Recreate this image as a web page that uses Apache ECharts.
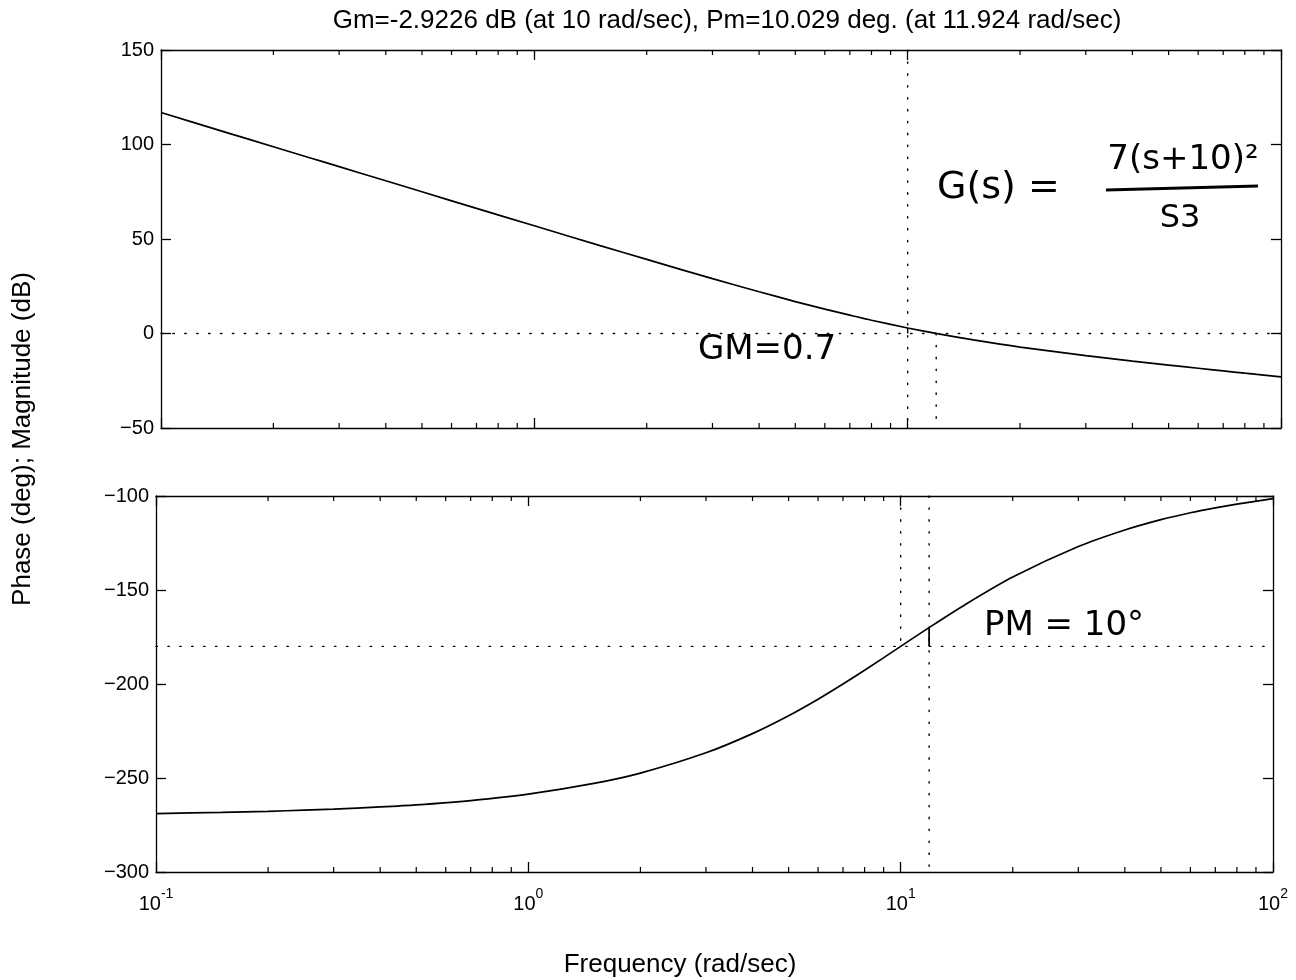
<!DOCTYPE html>
<html>
<head>
<meta charset="utf-8">
<script src="https://cdn.jsdelivr.net/npm/echarts@6/dist/echarts.min.js"></script>
<style>html,body{margin:0;padding:0;background:#fff}#c{width:1296px;height:980px}</style>
</head>
<body>
<div id="c"></div>
<script>
// Frequencies (rad/sec)
const freq = [0.1, 0.15, 0.2, 0.25, 0.3, 0.4, 0.5, 0.7, 1, 1.5, 2, 3, 4, 5, 6, 7, 8, 10, 12, 15, 20, 30, 40, 50, 60, 70, 80, 100];
// Magnitude (dB)
const magDb = [116.9, 106.3, 98.8, 93.0, 88.3, 80.8, 75.0, 66.2, 57.0, 46.5, 39.2, 29.0, 22.1, 16.9, 12.9, 9.7, 7.0, 2.9, -0.1, -3.4, -7.2, -11.7, -14.6, -16.7, -18.4, -19.8, -21.0, -22.9];
// Phase (deg)
const phaseDeg = [-268.9, -268.3, -267.7, -267.1, -266.6, -265.4, -264.3, -262.0, -258.6, -252.9, -247.4, -236.6, -226.4, -216.9, -208.1, -200.0, -192.7, -180.0, -169.6, -157.4, -143.1, -126.9, -118.1, -112.6, -108.9, -106.3, -104.3, -101.4];
// Margin values (from the title)
const gmFreq = 10;
const gmDb = 2.9226;
const pmFreq = 11.924;
const pmPhase = -169.971;
const critPhase = -180;
// Axis ranges and ticks
const freqRange = [0.1, 100];
const magRange = [-50, 150];
const phaseRange = [-300, -100];
const yStep = 50;
const minorFreqs = [0.2,0.3,0.4,0.5,0.6,0.7,0.8,0.9, 2,3,4,5,6,7,8,9, 20,30,40,50,60,70,80,90];
const titleText = 'Gm=-2.9226 dB (at 10 rad/sec), Pm=10.029 deg. (at 11.924 rad/sec)';
const xName = 'Frequency (rad/sec)';
const yName = 'Phase (deg); Magnitude (dB)';

const FONT = '"Liberation Sans", Arial, Helvetica, sans-serif';
const chart = echarts.init(document.getElementById('c'), null, {renderer: 'canvas'});

function xAxisDef(gridIndex, position, showLabels) {
  return {
    type: 'log', logBase: 10, gridIndex, position,
    min: freqRange[0], max: freqRange[1], splitNumber: 3,
    axisLine: {show: true, onZero: false, lineStyle: {color: '#000', width: 1.3}},
    axisTick: {show: true, inside: true, length: 10, lineStyle: {color: '#000', width: 1.3}},
    minorTick: {show: false},
    splitLine: {show: false},
    axisLabel: {
      show: showLabels, margin: 12, color: '#000', fontFamily: FONT,
      formatter: v => '{b|10}{s|' + Math.round(Math.log10(v)) + '}',
      rich: {
        b: {fontSize: 20, fontFamily: FONT, color: '#000', padding: [10, 0, 0, 0]},
        s: {fontSize: 14, fontFamily: FONT, color: '#000', padding: [0, 0, 10, 0]}
      }
    }
  };
}
function yAxisDef(gridIndex, position, range, showLabels) {
  return {
    type: 'value', gridIndex, position,
    min: range[0], max: range[1], interval: yStep,
    axisLine: {show: true, onZero: false, lineStyle: {color: '#000', width: 1.3}},
    axisTick: {show: true, inside: true, length: 10, lineStyle: {color: '#000', width: 1.3}},
    splitLine: {show: false},
    axisLabel: {show: showLabels, margin: 7, color: '#000', fontSize: 20, fontFamily: FONT,
      formatter: v => String(v).replace('-', '\u2212')}
  };
}
function pairs(xs, ys) { return xs.map((x, i) => [x, ys[i]]); }
const dotted = {color: '#000', width: 1.4, type: [1.4, 10.5], cap: 'round'};
function dotLine(xi, yi, data) {
  return {type: 'line', xAxisIndex: xi, yAxisIndex: yi, data, showSymbol: false, silent: true,
    lineStyle: dotted, z: 1, animation: false};
}
function solidLine(xi, yi, data, w, smooth) {
  return {type: 'line', xAxisIndex: xi, yAxisIndex: yi, data, showSymbol: false, silent: true,
    smooth: smooth ? 0.25 : false,
    lineStyle: {color: '#000', width: w || 1.6}, z: 3, animation: false};
}
function minorTickSeries(xi, yi) {
  return {
    type: 'custom', xAxisIndex: xi, yAxisIndex: yi, silent: true, clip: false, z: 4,
    data: minorFreqs.map(f => [f]),
    renderItem: function (params, api) {
      const cs = params.coordSys;
      const x = api.coord([api.value(0), 0])[0];
      const st = {stroke: '#000', lineWidth: 1.2};
      return {type: 'group', children: [
        {type: 'line', shape: {x1: x, y1: cs.y + cs.height, x2: x, y2: cs.y + cs.height - 5}, style: st},
        {type: 'line', shape: {x1: x, y1: cs.y, x2: x, y2: cs.y + 5}, style: st}
      ]};
    }
  };
}

const option = {
  animation: false,
  backgroundColor: '#fff',
  title: {text: titleText, left: 722, top: 3, textAlign: 'center',
    textStyle: {fontSize: 26, fontWeight: 'normal', color: '#000', fontFamily: FONT}},
  grid: [
    {left: 161, right: 15, top: 50, height: 378, containLabel: false},
    {left: 156, right: 23, top: 496, height: 376, containLabel: false}
  ],
  xAxis: [
    xAxisDef(0, 'bottom', false),
    xAxisDef(0, 'top', false),
    xAxisDef(1, 'bottom', true),
    xAxisDef(1, 'top', false)
  ],
  yAxis: [
    yAxisDef(0, 'left', magRange, true),
    yAxisDef(0, 'right', magRange, false),
    yAxisDef(1, 'left', phaseRange, true),
    yAxisDef(1, 'right', phaseRange, false)
  ],
  series: [
    solidLine(0, 0, pairs(freq, magDb), 1.7, true),
    solidLine(2, 2, pairs(freq, phaseDeg), 1.7, true),
    dotLine(0, 0, [[freqRange[0], 0], [freqRange[1], 0]]),
    dotLine(0, 0, [[gmFreq, magRange[1]], [gmFreq, magRange[0]]]),
    dotLine(0, 0, [[pmFreq, 0], [pmFreq, magRange[0]]]),
    solidLine(0, 0, [[gmFreq, 0], [gmFreq, gmDb]], 1.4),
    dotLine(2, 2, [[freqRange[0], critPhase], [freqRange[1], critPhase]]),
    dotLine(2, 2, [[gmFreq, phaseRange[1]], [gmFreq, critPhase]]),
    dotLine(2, 2, [[pmFreq, phaseRange[1]], [pmFreq, phaseRange[0]]]),
    solidLine(2, 2, [[pmFreq, critPhase], [pmFreq, pmPhase]], 1.8),
    minorTickSeries(0, 0),
    minorTickSeries(2, 2)
  ],
  graphic: [
    {type: 'text', x: 680, y: 965, style: {text: xName, fill: '#000', font: '26px ' + FONT, align: 'center', verticalAlign: 'middle'}},
    {type: 'text', x: 23, y: 439, rotation: Math.PI / 2, style: {text: yName, fill: '#000', font: '26px ' + FONT, align: 'center', verticalAlign: 'middle'}},
    // handwritten annotations
    {type: 'text', x: 937, y: 188, style: {text: 'G(s) =', fill: '#000', font: '38px "DejaVu Sans", sans-serif', verticalAlign: 'middle'}},
    {type: 'text', x: 1183, y: 160, style: {text: '7(s+10)\u00B2', fill: '#000', font: '34px "DejaVu Sans", sans-serif', align: 'center', verticalAlign: 'middle'}},
    {type: 'line', shape: {x1: 1106, y1: 190, x2: 1258, y2: 186}, style: {stroke: '#000', lineWidth: 3}},
    {type: 'text', x: 1180, y: 219, style: {text: 'S3', fill: '#000', font: '32px "DejaVu Sans", sans-serif', align: 'center', verticalAlign: 'middle'}},
    {type: 'text', x: 767, y: 350, style: {text: 'GM=0.7', fill: '#000', font: '34px "DejaVu Sans", sans-serif', align: 'center', verticalAlign: 'middle'}},
    {type: 'text', x: 1064, y: 626, style: {text: 'PM = 10\u00B0', fill: '#000', font: '34px "DejaVu Sans", sans-serif', align: 'center', verticalAlign: 'middle'}}
  ]
};
chart.setOption(option);
</script>
</body>
</html>
